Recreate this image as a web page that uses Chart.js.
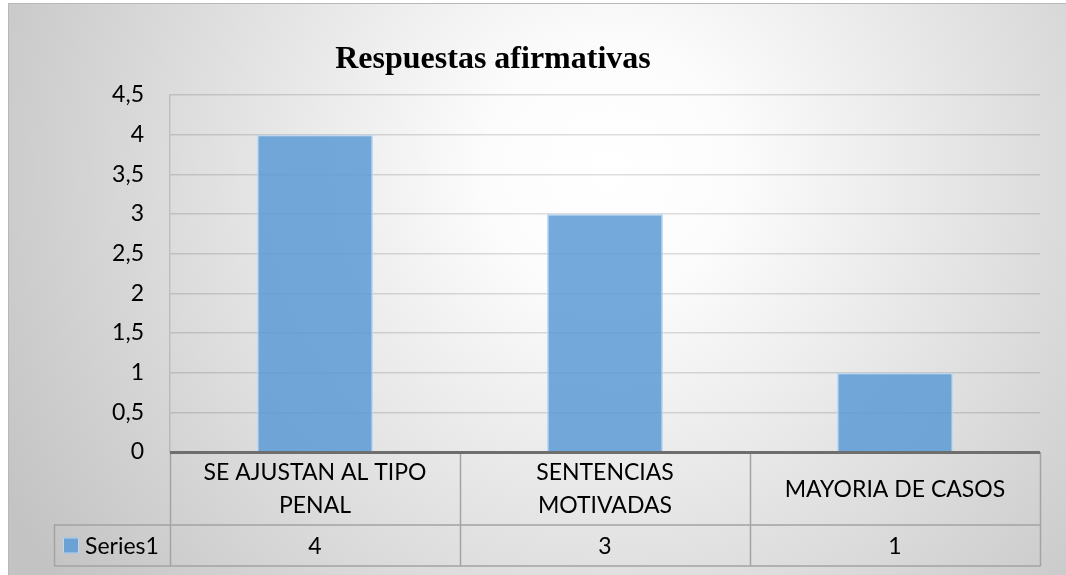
<!DOCTYPE html>
<html>
<head>
<meta charset="utf-8">
<script src="https://cdn.jsdelivr.net/npm/chart.js@4/dist/chart.umd.min.js"></script>
<style>
  html, body { margin: 0; padding: 0; background: #ffffff; }
  canvas { display: block; }
</style>
</head>
<body>
<canvas id="c" width="1066" height="575"></canvas>
<script>
// ---- data ----
const titleText = "Respuestas afirmativas";
const categories = [["SE AJUSTAN AL TIPO", "PENAL"], ["SENTENCIAS", "MOTIVADAS"], ["MAYORIA DE CASOS"]];
const seriesName = "Series1";
const values = [4, 3, 1];
const yMin = 0;
const yMax = 4.5;
const yStep = 0.5;

const TEXT_FONT = '23px Lato, "Open Sans", sans-serif';

const backgroundPlugin = {
  id: 'bg',
  beforeDraw(chart) {
    const ctx = chart.ctx;
    ctx.save();
    ctx.fillStyle = '#ffffff';
    ctx.fillRect(0, 0, chart.width, chart.height);
    const g = ctx.createRadialGradient(610, 170, 0, 610, 170, 690);
    g.addColorStop(0, '#ffffff');
    g.addColorStop(0.18, '#fcfcfc');
    g.addColorStop(1, '#c3c3c3');
    ctx.fillStyle = g;
    ctx.fillRect(8, 3, chart.width - 8, chart.height - 3);
    ctx.strokeStyle = '#b8b8b8';
    ctx.lineWidth = 1;
    ctx.beginPath();
    ctx.moveTo(8.5, chart.height);
    ctx.lineTo(8.5, 3.5);
    ctx.lineTo(chart.width, 3.5);
    ctx.stroke();
    // title
    ctx.fillStyle = '#000000';
    ctx.font = 'bold 32px "Liberation Serif", "Times New Roman", serif';
    ctx.textAlign = 'center';
    ctx.textBaseline = 'alphabetic';
    ctx.fillText(titleText, 493, 68);
    ctx.restore();
  }
};

const tablePlugin = {
  id: 'dataTable',
  afterDraw(chart) {
    const ctx = chart.ctx;
    const x = chart.scales.x;
    const area = chart.chartArea;
    const n = categories.length;
    const colW = (area.right - area.left) / n;
    const top = area.bottom;
    const rowSplit = top + 73;
    const bottom = top + 114;
    const legendLeft = 54;
    ctx.save();
    // grid lines of the table
    ctx.strokeStyle = '#a3a3a3';
    ctx.lineWidth = 1.5;
    ctx.beginPath();
    for (let i = 0; i <= n; i++) {
      const px = Math.round(area.left + colW * i) + 0.5;
      ctx.moveTo(px, top);
      ctx.lineTo(px, bottom);
    }
    ctx.moveTo(legendLeft, rowSplit);
    ctx.lineTo(area.right, rowSplit);
    ctx.moveTo(legendLeft, bottom);
    ctx.lineTo(area.right + 0.5, bottom);
    ctx.moveTo(legendLeft + 0.5, rowSplit);
    ctx.lineTo(legendLeft + 0.5, bottom);
    ctx.stroke();
    // axis line (category axis)
    ctx.strokeStyle = '#6e6e6e';
    ctx.lineWidth = 3;
    ctx.beginPath();
    ctx.moveTo(area.left, top + 0.5);
    ctx.lineTo(area.right, top + 0.5);
    ctx.stroke();
    // texts
    ctx.fillStyle = '#000000';
    ctx.font = TEXT_FONT;
    ctx.textAlign = 'center';
    ctx.textBaseline = 'middle';
    const lineH = 33;
    categories.forEach((lines, i) => {
      const cx = x.getPixelForValue(i);
      const cy = (top + rowSplit) / 2 + 1;
      const startY = cy - (lines.length - 1) * lineH / 2;
      lines.forEach((t, j) => ctx.fillText(t, cx, startY + j * lineH));
      ctx.fillText(String(values[i]).replace('.', ','), cx, (rowSplit + bottom) / 2 + 1);
    });
    // legend key
    const ly = (rowSplit + bottom) / 2;
    ctx.fillStyle = 'rgba(91,155,213,0.85)';
    ctx.fillRect(63, ly - 8, 16, 16);
    ctx.strokeStyle = 'rgba(200,222,244,0.9)';
    ctx.lineWidth = 1;
    ctx.strokeRect(63.5, ly - 7.5, 15, 15);
    ctx.fillStyle = '#000000';
    ctx.textAlign = 'left';
    ctx.fillText(seriesName, 85, ly + 1);
    ctx.restore();
  }
};

new Chart(document.getElementById('c'), {
  type: 'bar',
  data: {
    labels: categories,
    datasets: [{
      label: seriesName,
      data: values,
      backgroundColor: 'rgba(91,155,213,0.85)',
      borderColor: 'rgba(190,215,242,0.9)',
      borderWidth: 1.5,
      barPercentage: 0.4,
      categoryPercentage: 1.0
    }]
  },
  options: {
    responsive: false,
    animation: false,
    layout: { padding: { top: 95, right: 26, bottom: 123, left: 0 } },
    plugins: {
      legend: { display: false },
      title: { display: false },
      tooltip: { enabled: false }
    },
    scales: {
      x: {
        display: false,
        grid: { display: false }
      },
      y: {
        min: yMin,
        max: yMax,
        afterFit(scale) { scale.width = 170; },
        ticks: {
          stepSize: yStep,
          padding: 26,
          color: '#000000',
          font: { family: 'Lato, "Open Sans", sans-serif', size: 23 },
          callback: v => String(v).replace('.', ',')
        },
        grid: {
          color: 'rgba(0,0,0,0.13)',
          lineWidth: 1.5,
          drawTicks: false
        },
        border: { color: 'rgba(0,0,0,0.13)', width: 1.5 }
      }
    }
  },
  plugins: [backgroundPlugin, tablePlugin]
});
</script>
</body>
</html>
